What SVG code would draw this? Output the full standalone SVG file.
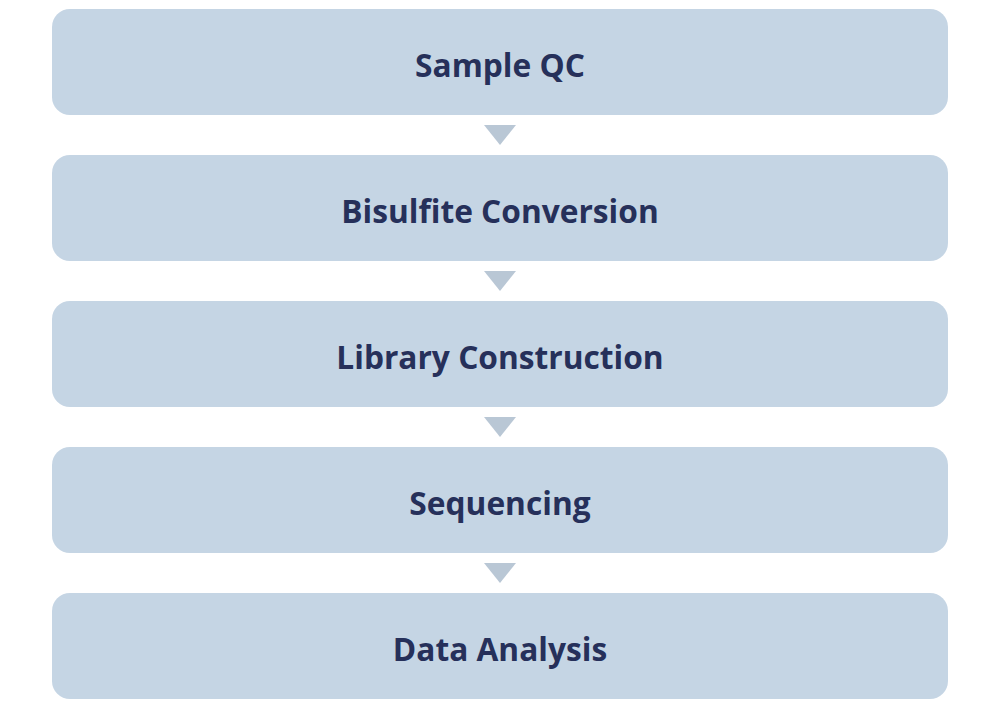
<svg xmlns="http://www.w3.org/2000/svg" width="1000" height="708" viewBox="0 0 1000 708">
<style>
.box{fill:#c5d5e4}
.lbl{font-family:"Open Sans","Noto Sans","Liberation Sans",sans-serif;font-weight:bold;font-size:31.7px;fill:#26305a;text-anchor:middle;dominant-baseline:central}
.arr{fill:#b9c7d5}
</style>
<rect width="1000" height="708" fill="#ffffff"/>
<g id="connectors">
<polygon class="arr" points="484,125 516,125 500,145"/>
<polygon class="arr" points="484,271 516,271 500,291"/>
<polygon class="arr" points="484,417 516,417 500,437"/>
<polygon class="arr" points="484,563 516,563 500,583"/>
</g>
<g id="n1"><rect class="box" x="52" y="9" width="896" height="106" rx="18"/><text class="lbl" x="500" y="64">Sample QC</text></g>
<g id="n2"><rect class="box" x="52" y="155" width="896" height="106" rx="18"/><text class="lbl" x="500" y="210">Bisulfite Conversion</text></g>
<g id="n3"><rect class="box" x="52" y="301" width="896" height="106" rx="18"/><text class="lbl" x="500" y="356">Library Construction</text></g>
<g id="n4"><rect class="box" x="52" y="447" width="896" height="106" rx="18"/><text class="lbl" x="500" y="502">Sequencing</text></g>
<g id="n5"><rect class="box" x="52" y="593" width="896" height="106" rx="18"/><text class="lbl" x="500" y="648">Data Analysis</text></g>
</svg>
